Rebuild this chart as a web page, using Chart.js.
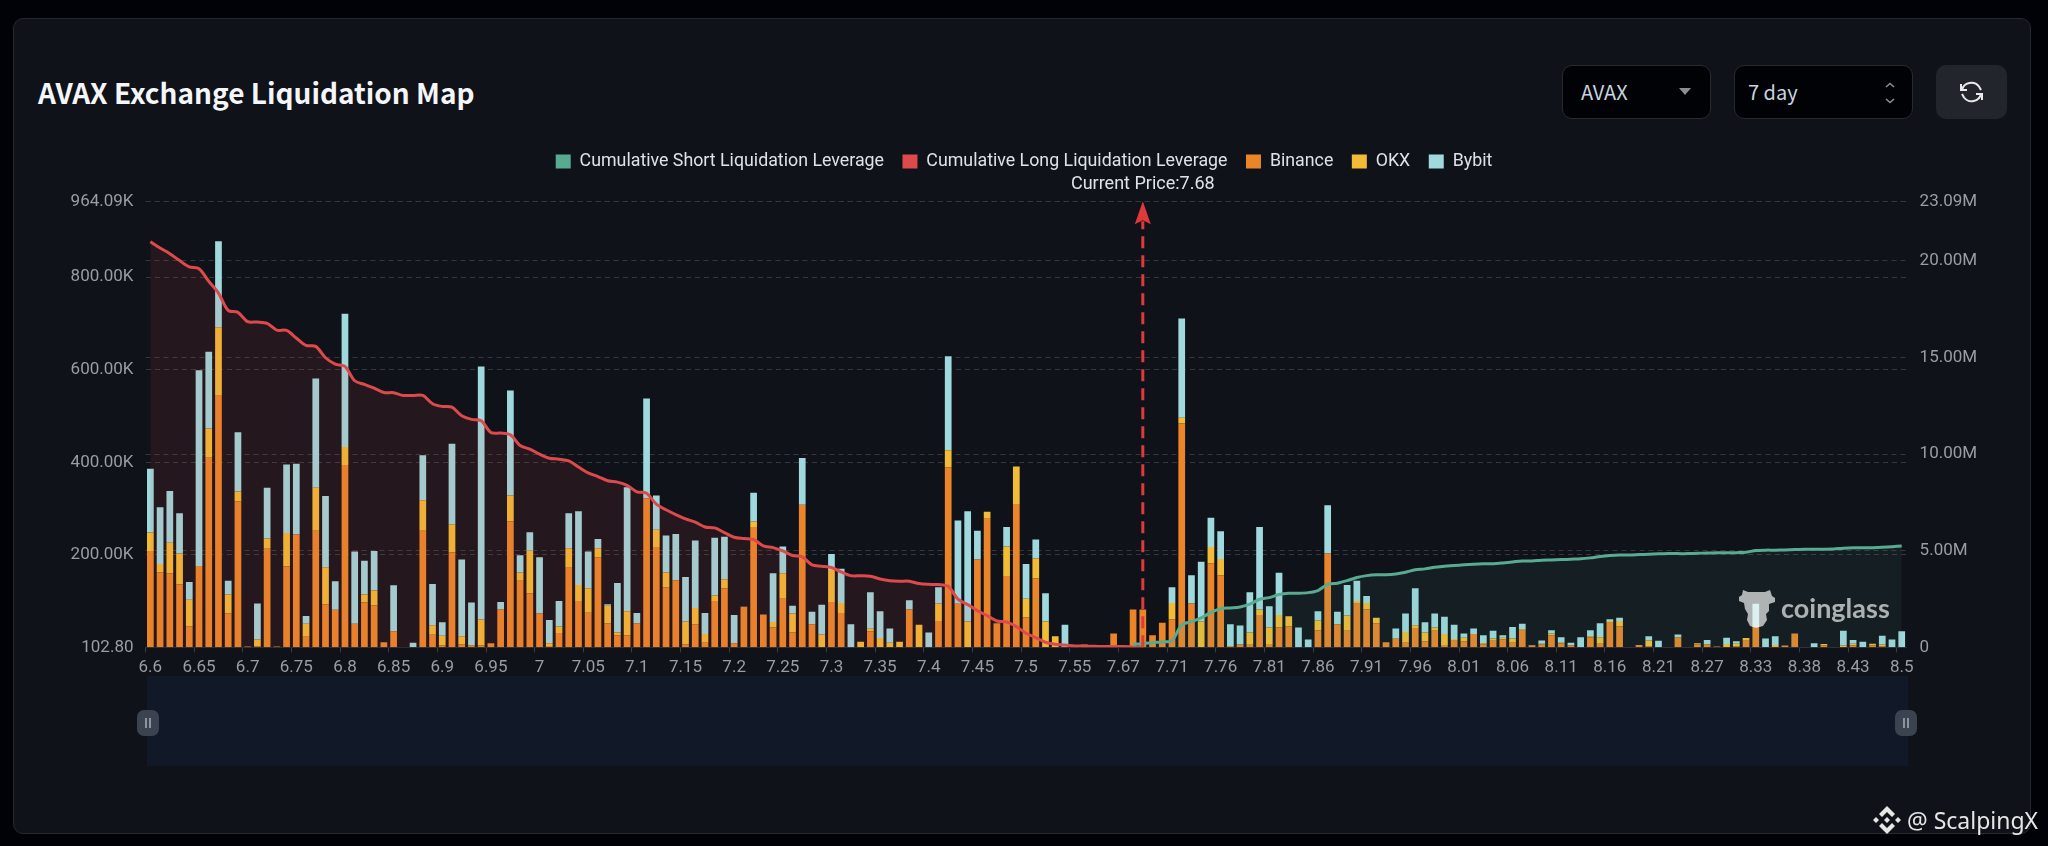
<!DOCTYPE html>
<html>
<head>
<meta charset="utf-8">
<title>AVAX Exchange Liquidation Map</title>
<script src="https://cdn.jsdelivr.net/npm/chart.js@4"></script>
<style>
html, body { margin: 0; padding: 0; background: #000207; width: 2048px; height: 846px; overflow: hidden; }
#panel { position: absolute; left: 13px; top: 18px; width: 2016px; height: 814px; background: #0f1219; border: 1px solid #26292f; border-radius: 10px; }
#title { position: absolute; left: 38px; top: 72px; color: #f4f6f9; font: 700 28px "Noto Sans CJK SC", sans-serif; line-height: 40px; white-space: nowrap; }
.box { position: absolute; top: 65px; height: 52px; background: #010206; border: 1px solid #26292f; border-radius: 10px; color: #c8d4de; font: 400 20px "Noto Sans CJK SC", sans-serif; line-height: 52px; }
.box span { position: absolute; left: 18px; }
.box svg { position: absolute; }
#refresh { position: absolute; left: 1936px; top: 65px; width: 71px; height: 54px; background: #22252c; border-radius: 10px; }
#slider { position: absolute; left: 147px; top: 676px; width: 1761px; height: 90px; background: #111827; }
.handle { position: absolute; top: 710px; width: 22px; height: 26px; background: #3b4250; border-radius: 7px; }
.handle i { position: absolute; top: 8px; width: 2px; height: 10px; background: #8d939d; }
canvas { position: absolute; left: 0; top: 0; }
#mark { position: absolute; left: 1781px; top: 588px; color: #a6a6a6; font: 700 27px Lato, sans-serif; line-height: 40px; mix-blend-mode: screen; }
#logo { position: absolute; left: 1739px; top: 589px; mix-blend-mode: screen; }
#src { position: absolute; left: 1907px; top: 804px; color: #e6e6e6; font: 400 23px "Noto Sans", sans-serif; line-height: 32px; white-space: nowrap; }
#srcIcon { position: absolute; left: 1873px; top: 806px; }
</style>
</head>
<body>
<div id="panel"></div>
<div id="title">AVAX Exchange Liquidation Map</div>
<div class="box" style="left:1562px;width:147px"><span>AVAX</span>
  <svg style="left:116px;top:22px" width="12" height="8"><path d="M0 0H12L6 7Z" fill="#8a8d92"/></svg></div>
<div class="box" style="left:1734px;width:177px"><span style="left:13px">7 day</span>
  <svg style="left:149px;top:16px" width="12" height="22" fill="none" stroke="#8a8d92" stroke-width="1.6"><path d="M2 5L6 1.500L10 5M2 17L6 20.500L10 17"/></svg></div>
<div id="refresh"><svg style="position:absolute;left:23px;top:15px" width="25" height="24" viewBox="0 0 25 24" fill="none" stroke="#e8eaec" stroke-width="2"><path d="M3 10A9.500 9 0 0 1 20 6.500L22 10M22 14A9.500 9 0 0 1 5 17.500L3 14"/><path d="M2 4V10H8M23 20V14H17"/></svg></div>
<div id="slider"></div>
<div class="handle" style="left:137px"><i style="left:8px"></i><i style="left:12px"></i></div>
<div class="handle" style="left:1895px"><i style="left:8px"></i><i style="left:12px"></i></div>
<canvas id="chartLiq" width="2048" height="846"></canvas>
<svg id="logo" width="36" height="40" viewBox="0 0 36 40"><path d="M4 1L9 3H26L31 1L33 7L36 9V13L30 15L30 22L27 25L28 31L24 37L17 39L11 37L8 31L9 25L6 20L5 14L0 12V8L3 6Z" fill="#a8a8a8"/></svg>
<div id="mark">coinglass</div>
<svg id="srcIcon" width="28" height="28" viewBox="0 0 28 28" fill="#e6e6e6"><path d="M14 0L22 8L19 11L14 6L9 11L6 8ZM14 28L6 20L9 17L14 22L19 17L22 20ZM0 14L3 11L6 14L3 17ZM22 14L25 11L28 14L25 17ZM14 11L17 14L14 17L11 14Z"/></svg>
<div id="src">@ ScalpingX</div>

<script>
// every 5th bar carries a price label
const priceTicks = ['6.6','6.65','6.7','6.75','6.8','6.85','6.9','6.95','7','7.05','7.1','7.15','7.2','7.25','7.3','7.35','7.4','7.45','7.5','7.55','7.67','7.71','7.76','7.81','7.86','7.91','7.96','8.01','8.06','8.11','8.16','8.21','8.27','8.33','8.38','8.43','8.5'];
const currentPrice = '7.68';
const currentIndex = 102;

// thousands
const binance = [
	208,162,160,136,45,176,410,544,73,315,
	2,2,213,2,175,244,23,252,93,81,
	394,51,97,91,11,35,0,1,252,27,
	4,205,6,4,4,9,82,272,144,117,
	73,3,31,172,100,75,195,52,26,26,
	52,322,217,130,145,6,50,10,100,128,
	9,87,260,71,43,105,32,308,50,1,
	98,74,0,0,34,1,1,1,82,1,
	0,57,389,94,1,190,278,52,154,310,
	65,149,1,0,0,0,6,0,0,30,
	0,82,82,26,53,60,484,95,1,182,
	156,3,6,7,70,7,43,45,0,0,
	37,203,50,36,94,82,52,11,18,10,
	42,13,36,5,14,13,29,6,14,17,
	10,36,4,6,26,9,4,0,22,8,
	53,45,1,5,2,0,1,21,1,6,
	6,2,1,2,14,44,1,1,4,30,
	1,0,4,1,1,4,0,4,2,0,
	0];
const okx = [
	40,18,66,67,58,0,63,148,41,22,
	0,15,22,0,72,0,28,93,80,0,
	39,0,17,32,0,0,0,0,66,21,
	21,61,18,0,56,0,0,56,18,92,
	0,6,14,42,35,53,19,38,6,52,
	0,0,37,32,0,50,35,19,12,19,
	0,0,12,0,12,55,41,0,0,27,
	69,22,0,12,6,19,9,11,0,48,
	0,38,37,0,55,0,15,0,64,81,
	40,43,55,24,0,3,0,0,0,0,
	0,0,0,0,0,36,12,0,55,35,
	35,0,0,25,12,36,27,22,0,0,
	21,0,0,33,6,14,12,0,1,23,
	6,19,7,24,4,8,0,3,5,4,
	9,3,1,2,4,1,1,0,2,14,
	4,12,0,0,13,0,0,1,0,3,
	1,0,6,6,6,0,0,4,0,0,
	0,0,3,0,3,4,0,4,4,0,
	0];
const bybit = [
	138,123,112,87,38,423,166,186,30,128,
	0,78,110,0,148,153,17,236,154,62,
	288,156,73,85,0,99,0,9,97,89,
	29,174,166,93,547,0,16,227,37,40,
	122,50,55,76,159,79,20,3,107,268,
	22,216,74,80,100,96,146,45,125,92,
	61,1,62,0,105,58,17,101,27,64,
	35,74,50,0,79,58,31,0,20,0,
	32,35,203,180,238,62,0,0,42,0,
	75,41,61,0,49,0,0,0,0,0,
	0,0,0,0,0,34,215,61,129,63,
	60,47,41,87,178,46,91,0,43,17,
	20,104,27,66,44,15,0,0,22,40,
	80,22,30,37,31,9,12,17,17,5,
	25,12,0,7,7,12,5,22,13,30,
	4,7,0,0,9,14,0,6,0,0,
	9,0,14,5,0,50,18,19,0,0,
	0,9,0,0,32,8,12,0,19,17,
	35];

// millions, bars 0..102
const longCum = [
	21.00,20.67,20.38,20.02,19.69,19.60,18.95,18.34,17.44,17.34,
	16.86,16.84,16.77,16.42,16.41,16.01,15.63,15.58,14.99,14.66,
	14.54,13.80,13.61,13.42,13.19,13.18,13.04,13.04,13.04,12.61,
	12.47,12.43,11.99,11.80,11.73,11.12,11.09,11.00,10.45,10.26,
	10.00,9.79,9.74,9.65,9.33,9.03,8.84,8.62,8.55,8.38,
	8.05,7.98,7.41,7.12,6.87,6.65,6.48,6.23,6.18,5.94,
	5.70,5.63,5.58,5.25,5.16,4.99,4.75,4.68,4.27,4.20,
	4.13,3.90,3.71,3.70,3.68,3.54,3.45,3.42,3.42,3.30,
	3.26,3.25,3.16,2.49,2.21,1.90,1.64,1.36,1.31,1.07,
	0.73,0.50,0.26,0.16,0.12,0.07,0.06,0.05,0.04,0.04,
	0.04,0.02,0];
// millions, bars 101..180
const shortCum = [
	0.16,0.19,0.24,0.28,0.35,1.16,1.33,1.52,1.81,
	2.00,2.04,2.09,2.23,2.49,2.57,2.73,2.80,2.80,2.83,
	2.94,3.25,3.32,3.45,3.61,3.71,3.76,3.76,3.80,3.89,
	4.01,4.06,4.14,4.20,4.23,4.27,4.30,4.32,4.33,4.37,
	4.42,4.47,4.47,4.51,4.52,4.54,4.56,4.58,4.63,4.70,
	4.75,4.78,4.78,4.80,4.82,4.84,4.85,4.85,4.85,4.87,
	4.88,4.89,4.89,4.90,4.92,5.01,5.03,5.03,5.04,5.06,
	5.07,5.08,5.08,5.09,5.13,5.15,5.15,5.16,5.18,5.21,
	5.25];

const leftTicks = [0.1028, 200, 400, 600, 800, 964.09];
const leftLabels = ['102.80', '200.00K', '400.00K', '600.00K', '800.00K', '964.09K'];
const rightTicks = [0, 5, 10, 15, 20, 23.09];
const rightLabels = ['0', '5.00M', '10.00M', '15.00M', '20.00M', '23.09M'];

const seriesNames = ['Cumulative Short Liquidation Leverage', 'Cumulative Long Liquidation Leverage', 'Binance', 'OKX', 'Bybit'];
const seriesColors = ['#58aa91', '#de4a4c', '#ea8629', '#f2bc36', '#9fd8dd'];

const categories = binance.map((v, i) => (i % 5 === 0 ? priceTicks[i / 5] : ''));
const shortLine = new Array(binance.length - shortCum.length).fill(null).concat(shortCum);

const gridColor = '#34373d';
const tickFont = { family: 'Roboto', size: 17 };

// dashed arrow and label for the current price
const priceArrow = {
	id: 'priceArrow',
	afterDatasetsDraw(chart) {
		const ctx = chart.ctx;
		const x = chart.scales.x.getPixelForValue(currentIndex);
		const top = chart.chartArea.top;
		const bottom = chart.chartArea.bottom;
		ctx.save();
		ctx.strokeStyle = '#e0393c';
		ctx.fillStyle = '#e0393c';
		ctx.lineWidth = 3;
		ctx.setLineDash([12, 7]);
		ctx.beginPath();
		ctx.moveTo(x, bottom);
		ctx.lineTo(x, top + 20);
		ctx.stroke();
		ctx.setLineDash([]);
		ctx.beginPath();
		ctx.moveTo(x, top);
		ctx.lineTo(x + 8, top + 23);
		ctx.lineTo(x, top + 19);
		ctx.lineTo(x - 8, top + 23);
		ctx.closePath();
		ctx.fill();
		ctx.fillStyle = '#dfe3e6';
		ctx.font = '18px Roboto';
		ctx.textAlign = 'center';
		ctx.textBaseline = 'middle';
		ctx.fillText('Current Price:' + currentPrice, x, top - 17);
		ctx.restore();
	}
};

// extra room under the legend
const legendGap = {
	id: 'legendGap',
	beforeInit(chart) {
		const fit = chart.legend.fit;
		chart.legend.fit = function () {
			fit.call(this);
			this.height += 21;
		};
	}
};

const config = {
	type: 'bar',
	data: {
		labels: categories,
		datasets: [
			{
				type: 'line', label: seriesNames[0], data: shortLine, yAxisID: 'yR', order: 0,
				borderColor: seriesColors[0], backgroundColor: 'rgba(88,170,145,0.09)', borderWidth: 3,
				fill: 'origin', pointRadius: 0, tension: 0.3
			},
			{
				type: 'line', label: seriesNames[1], data: longCum, yAxisID: 'yR', order: 1,
				borderColor: seriesColors[1], backgroundColor: 'rgba(222,74,76,0.1)', borderWidth: 3,
				fill: 'origin', pointRadius: 0, tension: 0.3
			},
			{ label: seriesNames[2], data: binance, backgroundColor: seriesColors[2], yAxisID: 'y', order: 2 },
			{ label: seriesNames[3], data: okx, backgroundColor: seriesColors[3], yAxisID: 'y', order: 3 },
			{ label: seriesNames[4], data: bybit, backgroundColor: seriesColors[4], yAxisID: 'y', order: 4 }
		]
	},
	options: {
		responsive: false,
		animation: false,
		devicePixelRatio: 1,
		barPercentage: 0.69,
		categoryPercentage: 1,
		layout: { padding: { left: 30, right: 30, top: 134, bottom: 40 } },
		plugins: {
			tooltip: { enabled: false },
			legend: {
				position: 'top',
				labels: {
					color: '#dde2e6',
					font: { family: 'Roboto', size: 17.8 },
					boxWidth: 15,
					boxHeight: 14,
					padding: 18.5,
					generateLabels(chart) {
						return Chart.defaults.plugins.legend.labels.generateLabels(chart).map((item, i) => {
							item.fillStyle = seriesColors[i];
							item.lineWidth = 0;
							return item;
						});
					}
				}
			}
		},
		scales: {
			x: {
				stacked: true,
				grid: {
					drawOnChartArea: false,
					tickLength: 5,
					tickColor: (c) => (c.index % 5 === 0 ? '#3a3d44' : 'transparent')
				},
				border: { color: '#2a2d33' },
				ticks: { autoSkip: false, maxRotation: 0, color: '#9a9da1', font: tickFont, padding: 5 },
				afterFit(scale) { scale.height = 158.7; }
			},
			y: {
				stacked: true,
				position: 'left',
				min: leftTicks[0],
				max: leftTicks[leftTicks.length - 1],
				afterBuildTicks(scale) { scale.ticks = leftTicks.map((v) => ({ value: v })); },
				grid: { color: gridColor, drawTicks: false },
				border: { display: false, dash: [5, 4] },
				ticks: { color: '#9a9da1', font: tickFont, padding: 12, callback: (v, i) => leftLabels[i] },
				afterFit(scale) { scale.width = 115.5; }
			},
			yR: {
				position: 'right',
				min: rightTicks[0],
				max: rightTicks[rightTicks.length - 1],
				afterBuildTicks(scale) { scale.ticks = rightTicks.map((v) => ({ value: v })); },
				grid: { color: gridColor, drawTicks: false, drawOnChartArea: true },
				border: { display: false, dash: [5, 4] },
				ticks: { color: '#9a9da1', font: tickFont, padding: 13, callback: (v, i) => rightLabels[i] },
				afterFit(scale) { scale.width = 111.4; }
			}
		}
	},
	plugins: [legendGap, priceArrow]
};

const ctxLiq = document.getElementById('chartLiq').getContext('2d');
window.liqChart = new Chart(ctxLiq, config);
</script>
</body>
</html>
